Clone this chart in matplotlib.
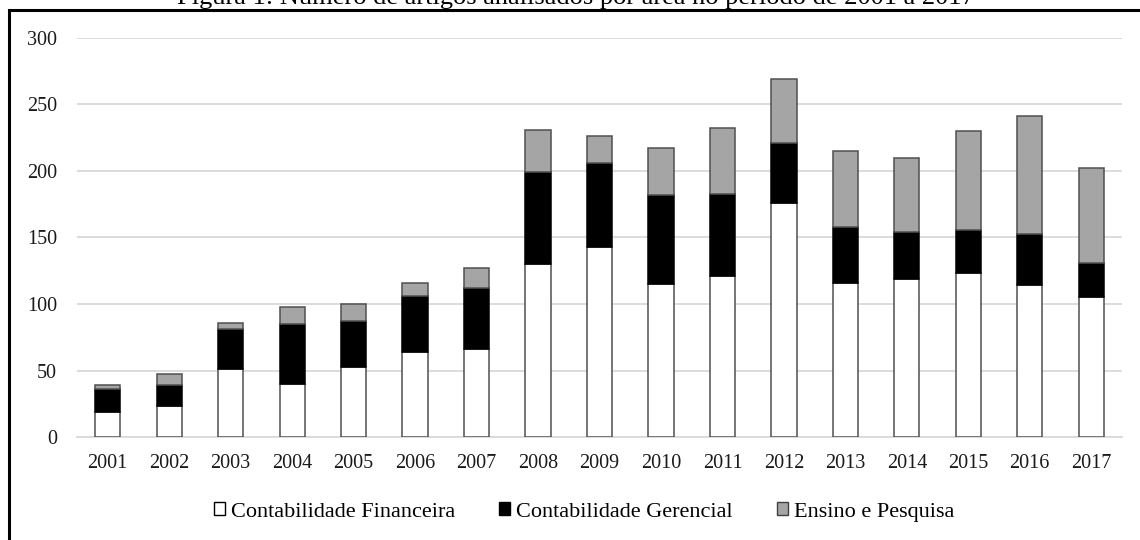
import matplotlib
matplotlib.use("Agg")
import matplotlib.pyplot as plt
from matplotlib.patches import Rectangle, Patch
import numpy as np

years = ["2001", "2002", "2003", "2004", "2005", "2006", "2007", "2008", "2009",
         "2010", "2011", "2012", "2013", "2014", "2015", "2016", "2017"]
financeira = [19, 23, 51, 40, 53, 64, 66, 130, 143, 115, 121, 176, 116, 119, 123, 114, 105]
gerencial = [17, 16, 30, 45, 34, 42, 46, 69, 63, 67, 62, 45, 42, 35, 33, 39, 26]
ensino = [3, 8, 5, 13, 13, 10, 15, 32, 20, 35, 49, 48, 57, 56, 74, 88, 71]
series_names = ["Contabilidade Financeira", "Contabilidade Gerencial", "Ensino e Pesquisa"]
title = "Figura 1: Número de artigos analisados por área no período de 2001 a 2017"

plt.rcParams["font.family"] = ["Liberation Serif", "DejaVu Serif"]

W, H = 1140, 540
fig = plt.figure(figsize=(W / 100, H / 100), dpi=100)
ax = fig.add_axes([77 / W, 1 - 437 / H, (1122 - 77) / W, (437 - 38) / H])

x = np.arange(len(years))
fin = np.array(financeira)
ger = np.array(gerencial)
ens = np.array(ensino)
bw = 0.41
edge = "#505050"
ax.bar(x, fin, bw, color="white", edgecolor=edge, linewidth=1.1, zorder=3)
ax.bar(x, ger, bw, bottom=fin, color="black", edgecolor="black", linewidth=1.1, zorder=3)
ax.bar(x, ens, bw, bottom=fin + ger, color="#a5a5a5", edgecolor=edge, linewidth=1.1, zorder=3)

ax.set_xlim(-0.5, len(years) - 0.5)
ax.set_ylim(0, 300)
ax.set_yticks(range(0, 301, 50))
ax.set_xticks(x)
ax.set_xticklabels(years)
ax.grid(axis="y", color="#d9d9d9", linewidth=1.3, zorder=0)
for s in ["top", "right", "left"]:
    ax.spines[s].set_visible(False)
ax.spines["bottom"].set_color("#d9d9d9")
ax.spines["bottom"].set_linewidth(1.3)
ax.tick_params(axis="both", length=0, labelsize=14.5, colors="#1a1a1a")
ax.tick_params(axis="y", pad=14.4)
ax.tick_params(axis="x", pad=12)

handles = [Patch(facecolor="white", edgecolor="black", linewidth=1.0),
           Patch(facecolor="black", edgecolor="black", linewidth=1.0),
           Patch(facecolor="#a5a5a5", edgecolor="#404040", linewidth=1.0)]
fig.legend(handles, series_names, loc="center", bbox_to_anchor=(584 / W, 1 - 512 / H),
           ncol=3, frameon=False, fontsize=16, handlelength=0.5, handleheight=0.5,
           handletextpad=0.25, columnspacing=2.0)

# outer frame and caption
fig.patches.append(Rectangle((9 / W, -0.1), 1.2, 1.1 - 10 / H, transform=fig.transFigure,
                             fill=False, edgecolor="black", linewidth=2.2, clip_on=False))
fig.text(576 / W, 1 - 4 / H, title, ha="center", va="baseline", fontsize=19)

fig.savefig("out.png", dpi=100)
